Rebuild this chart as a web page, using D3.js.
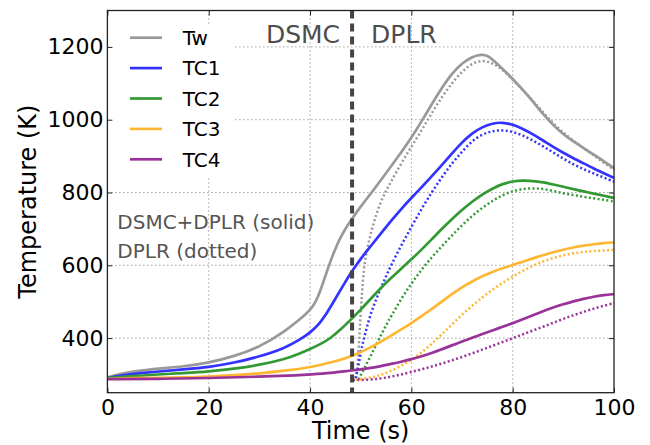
<!DOCTYPE html>
<html><head><meta charset="utf-8">
<script src="https://cdn.jsdelivr.net/npm/d3@7"></script>
<style>body{margin:0;background:#fff;} text{font-family:"DejaVu Sans",sans-serif;}</style>
</head><body><svg id="c" width="650" height="445"></svg>
<script>
// ---- data ----
const seriesNames = ["Tw", "TC1", "TC2", "TC3", "TC4"];
const seriesColors = ["#999999", "#3333ff", "#339933", "#ffb733", "#993399"];
const xTicks = [0, 20, 40, 60, 80, 100];
const yTicks = [400, 600, 800, 1000, 1200];
const switchTime = 48.3;

// solid (DSMC+DPLR) [time, temperature]
const twSolid = [[0,292],[3,303],[6,310],[10,316],[15,322],[20,332],[25,350],[30,375],[35,418],[38,452],[39,464],[40,477],[41,496],[42,528],[43,570],[44,610],[45,646],[46,676],[47,701],[48,722],[50,762],[52,797],[54,834],[56,872],[58,910],[60,950],[62,995],[64,1042],[66,1087],[68,1127],[70,1156],[72,1172],[73,1177],[74,1179],[75,1176],[76,1166],[78,1140],[80,1112],[82,1082],[84,1050],[86,1015],[88,985],[90,960],[92,940],[94,922],[96,904],[98,886],[100,867]];
const tc1Solid = [[0,290],[3,298],[6,303],[10,308],[15,314],[20,320],[25,332],[30,349],[35,372],[38,396],[40,414],[42,442],[43,462],[44,485],[45,508],[46,532],[47,555],[48,578],[49,598],[50,618],[52,653],[54,688],[56,722],[58,755],[60,785],[62,814],[64,844],[66,875],[68,907],[70,938],[72,963],[74,980],[76,990],[78,993],[80,987],[82,975],[84,960],[86,943],[88,925],[90,909],[92,894],[94,880],[96,866],[98,853],[100,840]];
const tc2Solid = [[0,290],[5,296],[10,300],[15,304],[20,308],[25,316],[30,326],[35,342],[38,358],[40,370],[42,383],[44,399],[46,423],[48,450],[50,478],[52,508],[54,538],[56,565],[58,591],[60,616],[62,643],[64,671],[66,700],[68,727],[70,752],[72,775],[74,795],[76,811],[78,824],[80,831],[82,833],[84,832],[86,828],[88,822],[90,816],[92,809],[94,803],[96,797],[98,791],[100,785]];
const tc3Solid = [[0,288],[5,290],[10,291],[15,292],[20,294],[25,298],[30,303],[35,310],[40,320],[42,326],[44,333],[46,340],[48,350],[50,361],[52,375],[54,390],[56,407],[58,424],[60,441],[62,460],[64,480],[66,500],[68,521],[70,540],[72,556],[74,570],[76,582],[78,592],[80,601],[82,610],[84,619],[86,628],[88,636],[90,643],[92,649],[94,654],[96,658],[98,661],[100,663]];
const tc4Solid = [[0,287],[10,288],[20,290],[30,294],[38,298],[40,300],[44,304],[48,311],[50,314],[52,318],[54,323],[56,329],[58,335],[60,342],[62,350],[64,359],[66,369],[68,380],[70,391],[72,401],[74,411],[76,421],[78,431],[80,441],[82,452],[84,463],[86,474],[88,484],[90,493],[92,501],[94,508],[96,514],[98,518],[100,521]];

// dotted (DPLR only) [time, temperature]
const twDotted = [[49,290],[49.3,310],[49.6,370],[50,470],[50.5,575],[51,628],[52,690],[53,737],[54,776],[55,805],[56,830],[58,880],[60,926],[62,970],[64,1018],[66,1062],[68,1100],[70,1133],[72,1155],[74,1164],[76,1156],[78,1138],[80,1110],[82,1082],[84,1052],[86,1020],[88,990],[90,964],[92,942],[94,922],[96,902],[98,882],[100,862]];
const tc1Dotted = [[49,290],[49.5,318],[50,362],[51,420],[52,468],[53,505],[54,538],[55,570],[56,600],[58,655],[60,705],[62,755],[64,800],[66,842],[68,880],[70,912],[72,942],[74,960],[76,969],[78,972],[80,967],[82,957],[84,943],[86,927],[88,910],[90,893],[92,877],[94,864],[96,852],[98,841],[100,830]];
const tc2Dotted = [[49.5,287],[50,297],[51,325],[52,352],[53,380],[54,408],[55,435],[56,460],[58,508],[60,550],[62,588],[64,622],[66,652],[68,682],[70,710],[72,736],[74,758],[76,777],[78,793],[80,804],[82,810],[84,812],[86,810],[88,804],[90,798],[92,793],[94,788],[96,784],[98,780],[100,775]];
const tc3Dotted = [[49,285],[50,287],[52,292],[54,298],[56,310],[58,324],[60,340],[62,360],[64,384],[66,410],[68,437],[70,464],[72,489],[74,512],[76,533],[78,552],[80,569],[82,585],[84,599],[86,611],[88,620],[90,628],[92,633],[94,637],[96,639],[98,641],[100,642]];
const tc4Dotted = [[48.5,285],[50,285],[52,286],[54,289],[56,294],[58,300],[60,307],[62,314],[64,322],[66,330],[68,339],[70,348],[72,358],[74,368],[76,379],[78,389],[80,400],[82,410],[84,421],[86,431],[88,442],[90,453],[92,463],[94,472],[96,481],[98,489],[100,496]];

const solids = [twSolid, tc1Solid, tc2Solid, tc3Solid, tc4Solid];
const dotteds = [twDotted, tc1Dotted, tc2Dotted, tc3Dotted, tc4Dotted];

// ---- layout ----
const W = 650, H = 445;
const m = {left: 107.4, right: 36, top: 10.5, bottom: 52.3};
const w = W - m.left - m.right, h = H - m.top - m.bottom;
const svg = d3.select("#c");
const g = svg.append("g").attr("transform", `translate(${m.left},${m.top})`);
const x = d3.scaleLinear().domain([0, 100]).range([0, w]);
const y = d3.scaleLinear().domain([250, 1300]).range([h, 0]);

// grid
const grid = g.append("g");
xTicks.filter(t => t > 0 && t < 100).forEach(t => {
  grid.append("line").attr("x1", x(t)).attr("x2", x(t)).attr("y1", 0).attr("y2", h)
    .attr("stroke", "#777").attr("stroke-width", 1).attr("stroke-dasharray", "1,3");
});
yTicks.forEach(t => {
  grid.append("line").attr("x1", 0).attr("x2", w).attr("y1", y(t)).attr("y2", y(t))
    .attr("stroke", "#777").attr("stroke-width", 1).attr("stroke-dasharray", "1,3");
});

// curves
const line = d3.line().x(d => x(d[0])).y(d => y(d[1])).curve(d3.curveBasis);
dotteds.forEach((s, i) => {
  g.append("path").attr("d", line(s)).attr("fill", "none").attr("stroke", seriesColors[i])
    .attr("stroke-width", 2.5).attr("stroke-dasharray", "2,2.4");
});
solids.forEach((s, i) => {
  g.append("path").attr("d", line(s)).attr("fill", "none").attr("stroke", seriesColors[i])
    .attr("stroke-width", 2.7).attr("stroke-linejoin", "round");
});

// switch line
g.append("line").attr("x1", x(switchTime)).attr("x2", x(switchTime)).attr("y1", 0).attr("y2", h)
  .attr("stroke", "#444").attr("stroke-width", 4).attr("stroke-dasharray", "8,5");

// region labels
g.append("text").attr("x", x(switchTime) - 12).attr("y", 43.3 - m.top).attr("text-anchor", "end")
  .attr("font-size", 25).attr("fill", "#4d4d4d").text("DSMC");
g.append("text").attr("x", x(switchTime) + 19).attr("y", 43.3 - m.top).attr("text-anchor", "start")
  .attr("font-size", 25).attr("fill", "#4d4d4d").text("DPLR");

// annotation
g.append("text").attr("x", 117.3 - m.left).attr("y", 229.3 - m.top).attr("font-size", 20)
  .attr("fill", "#555").text("DSMC+DPLR (solid)");
g.append("text").attr("x", 117.3 - m.left).attr("y", 257.7 - m.top).attr("font-size", 20)
  .attr("fill", "#555").text("DPLR (dotted)");

// legend
const lg = g.append("g");
lg.append("rect").attr("x", 1).attr("y", 25 - m.top).attr("width", 232 - m.left).attr("height", 152).attr("fill", "#fff");
seriesNames.forEach((n, i) => {
  const cy = 37.7 - m.top + i * 30.4;
  lg.append("line").attr("x1", 130 - m.left).attr("x2", 162 - m.left).attr("y1", cy).attr("y2", cy)
    .attr("stroke", seriesColors[i]).attr("stroke-width", 2.7);
  lg.append("text").attr("x", 182.7 - m.left).attr("y", cy + 7.3).attr("font-size", 20)
    .attr("fill", "#000").text(n);
});

// axes
const fmt = d3.format("d");
const ax = g.append("g").attr("transform", `translate(0,${h})`)
  .call(d3.axisBottom(x).tickValues(xTicks).tickSize(-5).tickPadding(7).tickFormat(fmt));
const ay = g.append("g").call(d3.axisLeft(y).tickValues(yTicks).tickSize(-5).tickPadding(4).tickFormat(fmt));
const axT = g.append("g").call(d3.axisTop(x).tickValues(xTicks).tickSize(-5).tickFormat(""));
const ayR = g.append("g").attr("transform", `translate(${w},0)`)
  .call(d3.axisRight(y).tickValues(yTicks).tickSize(-5).tickFormat(""));
[ax, ay, axT, ayR].forEach(a => {
  a.select(".domain").remove();
  a.selectAll("line").attr("stroke", "#222").attr("stroke-width", 1);
  a.selectAll("text").attr("font-size", 22).attr("fill", "#000").attr("font-family", "DejaVu Sans");
});
g.append("rect").attr("x", 0).attr("y", 0).attr("width", w).attr("height", h)
  .attr("fill", "none").attr("stroke", "#222").attr("stroke-width", 1.3);

// axis titles
svg.append("text").attr("x", m.left + w / 2).attr("y", 439).attr("text-anchor", "middle")
  .attr("font-size", 24).text("Time (s)");
svg.append("text").attr("transform", `translate(36,${m.top + h / 2}) rotate(-90)`)
  .attr("text-anchor", "middle").attr("font-size", 24).text("Temperature (K)");
</script></body></html>
